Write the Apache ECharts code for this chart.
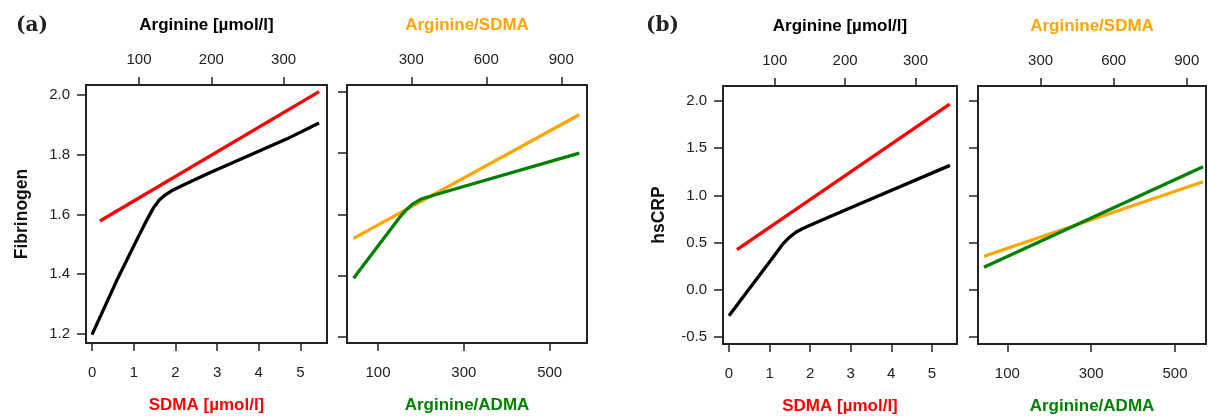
<!doctype html>
<html lang="en">
<head>
    <meta charset="utf-8">
    <title>arginine panels</title>
    <script src="https://cdn.jsdelivr.net/npm/echarts@6.0.0/dist/echarts.min.js"></script>
    <style>
        html, body { margin: 0; padding: 0; background: #fff; }
    </style>
</head>
<body>
<div id="chart" style="width: 1208px;height:416px;"></div>

<script>

// panel (a) - Fibrinogen
var aSdmaX = [0.185, 5.45];
var aSdmaY = [1.578, 2.011];
var aArgX = [35, 69, 100, 112, 120, 128, 136, 145, 160, 194, 304, 349];
var aArgY = [1.198, 1.378, 1.530, 1.587, 1.622, 1.648, 1.665, 1.679, 1.697, 1.735, 1.852, 1.906];
var aRatioSdmaX = [69, 972];
var aRatioSdmaY = [1.522, 1.925];
var aRatioAdmaX = [43, 152, 165, 180, 200, 245, 569];
var aRatioAdmaY = [1.392, 1.593, 1.614, 1.633, 1.650, 1.669, 1.800];

// panel (b) - hsCRP
var bSdmaX = [0.197, 5.44];
var bSdmaY = [0.426, 1.968];
var bArgX = [35, 100, 112, 120, 130, 140, 155, 207, 349];
var bArgY = [-0.275, 0.37, 0.49, 0.55, 0.61, 0.65, 0.70, 0.866, 1.318];
var bRatioSdmaX = [68, 967];
var bRatioSdmaY = [0.355, 1.145];
var bRatioAdmaX = [44, 567];
var bRatioAdmaY = [0.239, 1.303];

// tick labels
var sdmaTicks = [0, 1, 2, 3, 4, 5];
var argTicks = [100, 200, 300];
var ratioSdmaTicks = [300, 600, 900];
var ratioAdmaTicks = [100, 300, 500];
var fibTicks = [1.2, 1.4, 1.6, 1.8, 2.0];
var crpTicks = [-0.5, 0.0, 0.5, 1.0, 1.5, 2.0];

var RED = '#ff0000', BLACK = '#000000', ORANGE = '#ffa500', GREEN = '#008000';
var FONT = '"Liberation Sans", Arial, sans-serif';

var myChart = echarts.init(document.getElementById('chart'));

function zip(xs, ys) {
    return xs.map(function (x, i) { return [x, ys[i]]; });
}

function xAx(grid, pos, min, max, ticks, name, color) {
    return {
        type: 'value', gridIndex: grid, position: pos, min: min, max: max,
        name: name, nameLocation: 'middle', nameGap: pos === 'top' ? 51 : 54,
        nameTextStyle: { color: color, fontFamily: FONT, fontSize: 17, fontWeight: 'bold' },
        axisLine: { show: false, onZero: false },
        axisTick: { show: true, length: 8, customValues: ticks, lineStyle: { color: '#222', width: 1.5 } },
        axisLabel: { show: true, customValues: ticks, margin: pos === 'top' ? 18 : 22,
            color: '#222', fontFamily: FONT, fontSize: 15,
            formatter: function (v) { return String(v); } },
        splitLine: { show: false }
    };
}

function yAx(grid, min, max, ticks, name, labels) {
    return {
        type: 'value', gridIndex: grid, min: min, max: max,
        name: name, nameLocation: 'middle', nameGap: 55,
        nameTextStyle: { color: '#111', fontFamily: FONT, fontSize: 17.5, fontWeight: 'bold' },
        axisLine: { show: false, onZero: false },
        axisTick: { show: true, length: 9, customValues: ticks, lineStyle: { color: '#222', width: 1.5 } },
        axisLabel: { show: labels, customValues: ticks, margin: 16,
            color: '#222', fontFamily: FONT, fontSize: 15,
            formatter: function (v) { return v.toFixed(1); } },
        splitLine: { show: false }
    };
}

function line(data, color, xi, yi) {
    return {
        type: 'line', data: data, xAxisIndex: xi, yAxisIndex: yi,
        symbol: 'none', smooth: false, animation: false,
        lineStyle: { color: color, width: 3.3, join: 'round', cap: 'butt' }
    };
}

function box(left, top, width, height) {
    return { left: left, top: top, width: width, height: height,
        outerBoundsMode: 'none', containLabel: false,
        show: true, borderColor: '#222', borderWidth: 2, backgroundColor: 'transparent' };
}

function getOptions() {
    return {
        animation: false,
        title: [
            { text: '(a)', left: 11, top: 11, textStyle: { fontFamily: '"DejaVu Serif", serif', fontSize: 20, fontWeight: 'bold', color: '#222' } },
            { text: '(b)', left: 641, top: 11, textStyle: { fontFamily: '"DejaVu Serif", serif', fontSize: 20, fontWeight: 'bold', color: '#222' } }
        ],
        grid: [
            box(86, 85, 241, 258),
            box(347, 85, 240, 258),
            box(723, 86, 234, 258),
            box(978, 86, 228, 258)
        ],
        xAxis: [
            xAx(0, 'bottom', -0.15, 5.64, sdmaTicks, 'SDMA [µmol/l]', RED),
            xAx(0, 'top', 26.7, 360, argTicks, 'Arginine [µmol/l]', BLACK),
            xAx(1, 'bottom', 27.7, 587, ratioAdmaTicks, 'Arginine/ADMA', GREEN),
            xAx(1, 'top', 43, 1003, ratioSdmaTicks, 'Arginine/SDMA', ORANGE),
            xAx(2, 'bottom', -0.148, 5.62, sdmaTicks, 'SDMA [µmol/l]', RED),
            xAx(2, 'top', 26.5, 359, argTicks, 'Arginine [µmol/l]', BLACK),
            xAx(3, 'bottom', 30, 574, ratioAdmaTicks, 'Arginine/ADMA', GREEN),
            xAx(3, 'top', 43, 979, ratioSdmaTicks, 'Arginine/SDMA', ORANGE)
        ],
        yAxis: [
            yAx(0, 1.17, 2.033, fibTicks, 'Fibrinogen', true),
            yAx(1, 1.181, 2.022, fibTicks, '', false),
            yAx(2, -0.574, 2.159, crpTicks, 'hsCRP', true),
            yAx(3, -0.574, 2.159, crpTicks, '', false)
        ],
        series: [
            line(zip(aSdmaX, aSdmaY), RED, 0, 0),
            line(zip(aArgX, aArgY), BLACK, 1, 0),
            line(zip(aRatioSdmaX, aRatioSdmaY), ORANGE, 3, 1),
            line(zip(aRatioAdmaX, aRatioAdmaY), GREEN, 2, 1),
            line(zip(bSdmaX, bSdmaY), RED, 4, 2),
            line(zip(bArgX, bArgY), BLACK, 5, 2),
            line(zip(bRatioSdmaX, bRatioSdmaY), ORANGE, 7, 3),
            line(zip(bRatioAdmaX, bRatioAdmaY), GREEN, 6, 3)
        ]
    };
}

myChart.setOption(getOptions());

</script>

</body>
</html>
